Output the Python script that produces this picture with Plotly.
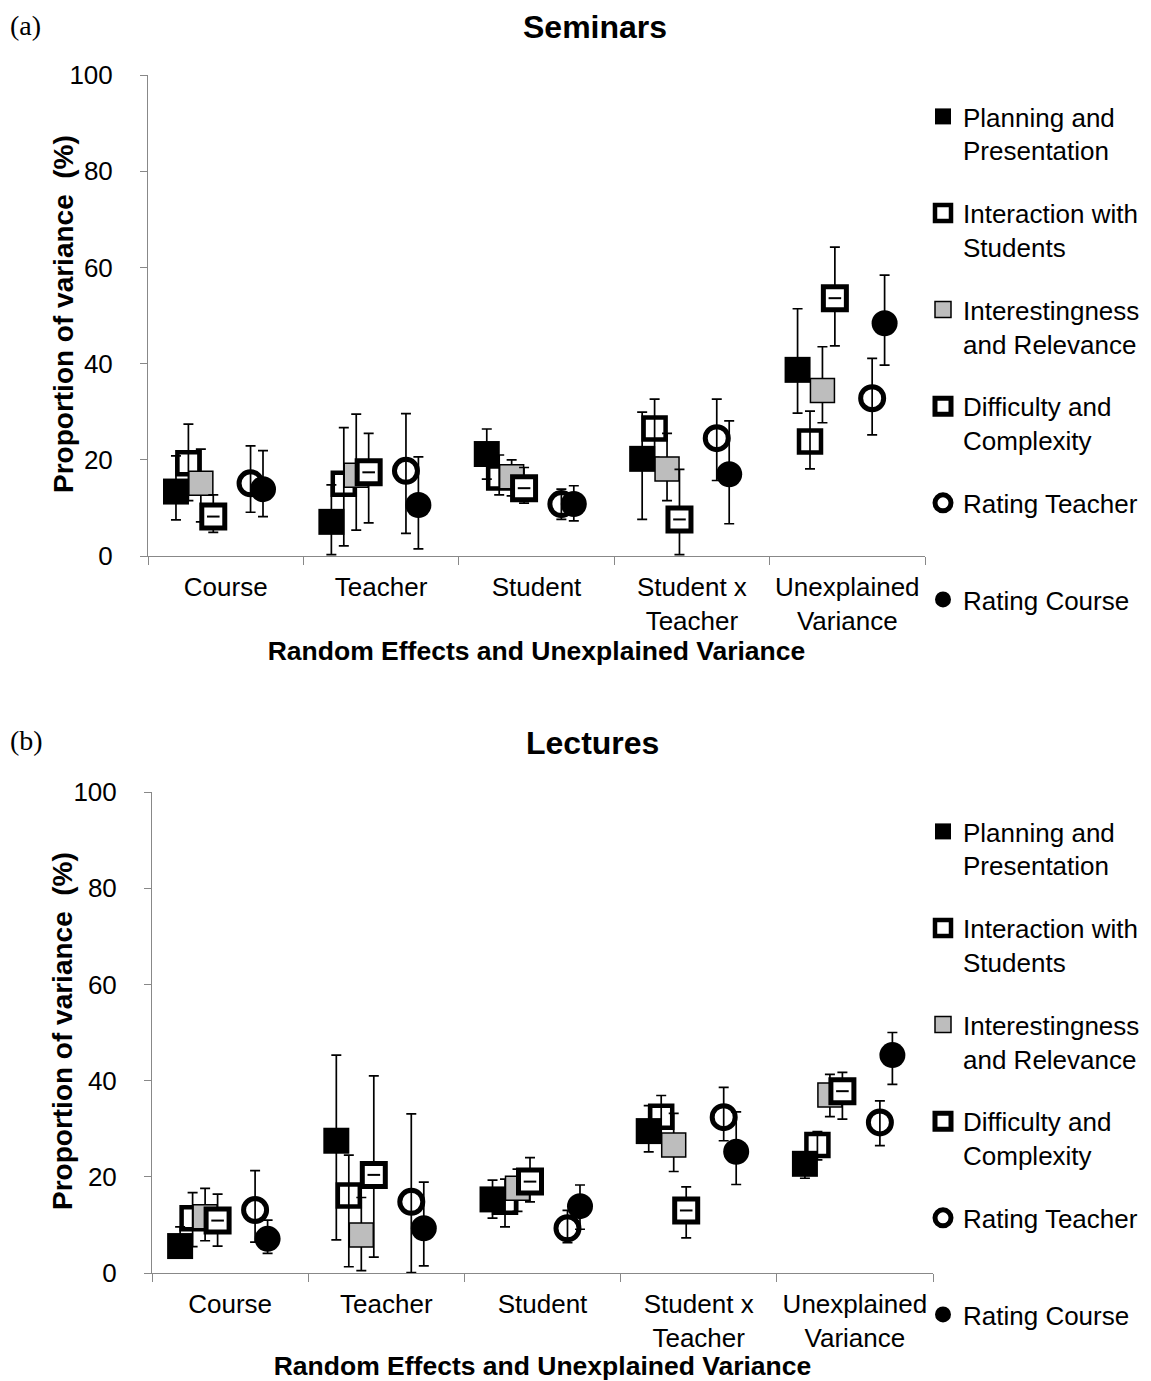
import numpy as np
import plotly.graph_objects as go

# the page body has an 8px margin, so the figure is sized to fill the rest of the window
PAD = 8
W, H = 1151 - PAD, 1381 - PAD
FONT = "Liberation Sans, Arial, sans-serif"
SERIF = "Liberation Serif, Times New Roman, serif"


def X(px):
    return (px - PAD) / W


def Y(py):
    return 1 - (py - PAD) / H


categories = ["Course", "Teacher", "Student", "Student x<br>Teacher", "Unexplained<br>Variance"]
series_names = ["Planning and<br>Presentation", "Interaction with<br>Students",
                "Interestingness<br>and Relevance", "Difficulty and<br>Complexity",
                "Rating Teacher<br>\u00a0", "Rating Course"]

# ---------------- (a) Seminars ----------------
sem_planning = [13.4, 7.1, 21.2, 20.2, 38.7]
sem_planning_hi = [20.8, 14.8, 26.4, 29.9, 51.4]
sem_planning_lo = [7.5, 0.3, 16.0, 7.6, 29.7]

sem_interaction = [19.3, 15.0, 16.3, 26.5, 23.8]
sem_interaction_hi = [27.4, 26.7, 21.0, 32.6, 30.1]
sem_interaction_lo = [11.5, 2.1, 12.7, 20.5, 18.1]

sem_interest = [15.1, 16.8, 16.5, 18.1, 34.4]
sem_interest_hi = [22.2, 29.5, 20.0, 25.5, 43.5]
sem_interest_lo = [7.1, 5.4, 12.5, 11.5, 27.7]

sem_difficulty = [8.2, 17.4, 14.1, 7.6, 53.6]
sem_difficulty_hi = [12.7, 25.5, 18.4, 18.0, 64.2]
sem_difficulty_lo = [4.9, 6.9, 11.0, 0.3, 43.7]

sem_rating_teacher = [15.1, 17.7, 10.8, 24.5, 32.8]
sem_rating_teacher_hi = [22.9, 29.6, 13.9, 32.6, 41.1]
sem_rating_teacher_lo = [9.1, 4.7, 7.6, 15.7, 25.2]

sem_rating_course = [13.9, 10.6, 10.8, 17.0, 48.4]
sem_rating_course_hi = [21.9, 20.6, 14.6, 28.1, 58.4]
sem_rating_course_lo = [8.2, 1.5, 7.3, 6.7, 39.7]

# ---------------- (b) Lectures ----------------
lec_planning = [5.6, 27.5, 15.3, 29.5, 22.7]
lec_planning_hi = [9.6, 45.3, 19.3, 34.8, 24.5]
lec_planning_lo = [3.1, 6.9, 11.4, 25.2, 19.7]

lec_interaction = [11.4, 16.1, 14.8, 32.5, 26.6]
lec_interaction_hi = [16.7, 24.5, 19.5, 36.9, 29.4]
lec_interaction_lo = [5.5, 1.3, 9.6, 28.5, 23.5]

lec_interest = [11.7, 7.9, 17.6, 26.6, 37.0]
lec_interest_hi = [17.6, 15.7, 21.6, 33.2, 41.3]
lec_interest_lo = [6.7, 0.5, 12.8, 21.1, 32.5]

lec_difficulty = [10.9, 20.4, 19.0, 13.0, 37.8]
lec_difficulty_hi = [16.4, 41.0, 24.0, 17.9, 41.7]
lec_difficulty_lo = [5.6, 3.3, 14.8, 7.3, 32.0]

lec_rating_teacher = [13.1, 14.8, 9.3, 32.4, 31.3]
lec_rating_teacher_hi = [21.3, 33.1, 13.0, 38.6, 35.8]
lec_rating_teacher_lo = [6.4, 0.1, 6.3, 27.5, 26.5]

lec_rating_course = [7.1, 9.3, 13.9, 25.2, 45.3]
lec_rating_course_hi = [11.0, 18.9, 18.3, 33.5, 50.0]
lec_rating_course_lo = [4.1, 1.5, 9.1, 18.4, 39.2]

y_ticks = [0, 20, 40, 60, 80, 100]

# ---------------- styling ----------------
offsets = [-0.32, -0.24, -0.16, -0.08, 0.16, 0.24]
styles = [
    dict(symbol="square", size=26, color="black", line=dict(width=0, color="black")),
    dict(symbol="square-open", size=22, color="black", line=dict(width=4.5, color="black")),
    dict(symbol="square", size=24, color="#bdbdbd", line=dict(width=1.5, color="black")),
    dict(symbol="square", size=23, color="white", line=dict(width=5, color="black")),
    dict(symbol="circle-open", size=23, color="black", line=dict(width=5, color="black")),
    dict(symbol="circle", size=26, color="black", line=dict(width=0, color="black")),
]

panels = [
    ("", "y", "legend", [
        (sem_planning, sem_planning_hi, sem_planning_lo),
        (sem_interaction, sem_interaction_hi, sem_interaction_lo),
        (sem_interest, sem_interest_hi, sem_interest_lo),
        (sem_difficulty, sem_difficulty_hi, sem_difficulty_lo),
        (sem_rating_teacher, sem_rating_teacher_hi, sem_rating_teacher_lo),
        (sem_rating_course, sem_rating_course_hi, sem_rating_course_lo),
    ]),
    ("2", "y2", "legend2", [
        (lec_planning, lec_planning_hi, lec_planning_lo),
        (lec_interaction, lec_interaction_hi, lec_interaction_lo),
        (lec_interest, lec_interest_hi, lec_interest_lo),
        (lec_difficulty, lec_difficulty_hi, lec_difficulty_lo),
        (lec_rating_teacher, lec_rating_teacher_hi, lec_rating_teacher_lo),
        (lec_rating_course, lec_rating_course_hi, lec_rating_course_lo),
    ]),
]

fig = go.Figure()
centers = np.arange(len(categories)) + 0.5

for suffix, yref, legname, data in panels:
    xref = "x" + suffix
    for i, (vals, hi, lo) in enumerate(data):
        vals, hi, lo = np.array(vals), np.array(hi), np.array(lo)
        xs = centers + offsets[i]
        fig.add_trace(go.Scatter(
            x=xs, y=vals, mode="markers", name=series_names[i],
            xaxis=xref, yaxis=yref, legend=legname, legendgroup=legname + str(i),
            marker=styles[i],
            error_y=dict(type="data", symmetric=False, array=hi - vals,
                         arrayminus=vals - lo, color="black", thickness=1.7, width=5),
        ))
        if i == 3:
            fig.add_trace(go.Scatter(
                x=xs, y=vals, mode="markers", showlegend=False, hoverinfo="skip",
                xaxis=xref, yaxis=yref, legend=legname,
                marker=dict(symbol="line-ew", size=9, line=dict(width=2, color="black")),
            ))

axis_common = dict(showgrid=False, zeroline=False, showline=True, linecolor="#888888",
                   linewidth=1, automargin=False,
                   tickfont=dict(family=FONT, size=26, color="black"))


def xaxis_cfg(domain, anchor):
    return dict(axis_common, domain=domain, anchor=anchor, range=[0, 5],
                tickmode="array", tickvals=list(centers), ticktext=categories,
                ticks="", ticklabelstandoff=8,
                minor=dict(tickmode="array", tickvals=list(range(6)), ticks="outside",
                           ticklen=8, tickcolor="#888888", tickwidth=1),
                title=dict(text="Random Effects and Unexplained Variance", standoff=5,
                           font=dict(family=FONT, size=26.5, color="black", weight="bold")))


def yaxis_cfg(domain, anchor):
    return dict(axis_common, domain=domain, anchor=anchor, range=[0, 100],
                tickmode="array", tickvals=y_ticks, ticks="outside", ticklen=7,
                tickcolor="#888888", ticklabelstandoff=22)


legend_common = dict(xanchor="left", yanchor="top", valign="top", tracegroupgap=26,
                     bgcolor="rgba(0,0,0,0)", font=dict(family=FONT, size=26, color="black"),
                     itemwidth=30)

ytitle = "Proportion of variance \u00a0(%)"
title_font = dict(family=FONT, size=28, color="black", weight="bold")

fig.update_layout(
    width=W, height=H, margin=dict(l=0, r=0, t=0, b=0, autoexpand=False),
    paper_bgcolor="white", plot_bgcolor="white", showlegend=True,
    font=dict(family=FONT, color="black"),
    xaxis=xaxis_cfg([X(148), X(925)], "y"),
    yaxis=yaxis_cfg([Y(556), Y(75)], "x"),
    xaxis2=xaxis_cfg([X(152), X(933)], "y2"),
    yaxis2=yaxis_cfg([Y(1273), Y(792)], "x2"),
    legend=dict(legend_common, x=X(923), y=Y(93)),
    legend2=dict(legend_common, x=X(923), y=Y(808)),
    annotations=[
        dict(text="Seminars", x=X(595), y=Y(27), xref="paper", yref="paper",
             xanchor="center", yanchor="middle", showarrow=False,
             font=dict(family=FONT, size=32, weight="bold")),
        dict(text="Lectures", x=X(592), y=Y(743), xref="paper", yref="paper",
             xanchor="center", yanchor="middle", showarrow=False,
             font=dict(family=FONT, size=32, weight="bold")),
        dict(text="(a)", x=X(8), y=Y(25), xref="paper", yref="paper",
             xanchor="left", yanchor="middle", showarrow=False,
             font=dict(family=SERIF, size=28)),
        dict(text="(b)", x=X(8), y=Y(740), xref="paper", yref="paper",
             xanchor="left", yanchor="middle", showarrow=False,
             font=dict(family=SERIF, size=28)),
        dict(text=ytitle, textangle=-90, x=X(63), y=Y(314), xref="paper", yref="paper",
             xanchor="center", yanchor="middle", showarrow=False, font=title_font),
        dict(text=ytitle, textangle=-90, x=X(63), y=Y(1031), xref="paper", yref="paper",
             xanchor="center", yanchor="middle", showarrow=False, font=title_font),
    ],
)

fig.write_html("out.html")
